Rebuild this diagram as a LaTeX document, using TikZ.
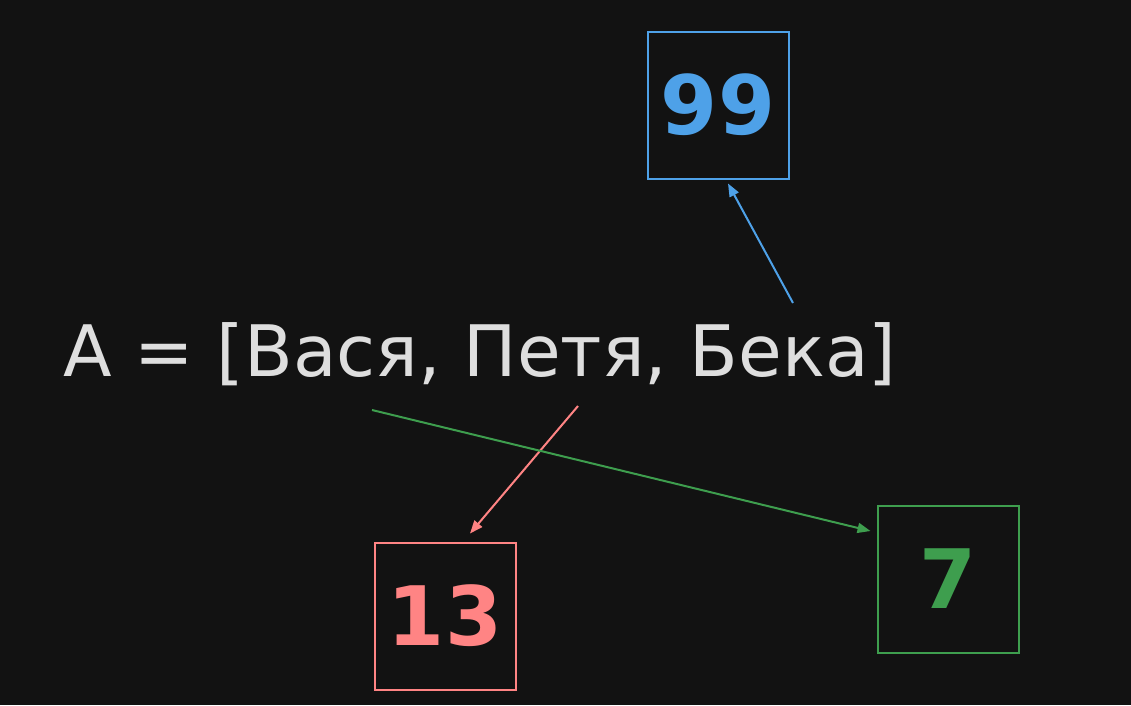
\documentclass[tikz,border=0pt]{standalone}
\usepackage{fontspec}
\setmainfont{DejaVu Sans}
\usetikzlibrary{arrows.meta}
\definecolor{bgdark}{HTML}{121212}
\definecolor{inkgrey}{HTML}{DEDEDE}
\definecolor{valblue}{HTML}{4EA1E8}
\definecolor{valred}{HTML}{FF8484}
\definecolor{valgreen}{HTML}{3E9E4E}
\begin{document}
\begin{tikzpicture}[
    x=1pt, y=-1pt,
    valbox/.style={
        rectangle,
        draw,
        line width=2pt,
        minimum width=141pt,
        minimum height=147pt,
        inner sep=0pt,
        font=\fontsize{82}{82}\selectfont\bfseries
    },
    arrow/.style={
        -{Triangle[length=13pt,width=10pt]},
        line width=2pt
    }
]
\fill[bgdark] (0,0) rectangle (1131,705);
\useasboundingbox (0,0) rectangle (1131,705);

% Array expression
\node[text=inkgrey, font=\fontsize{71}{71}\selectfont] (arr) at (480,354) {A = [Вася, Петя, Бека]};

% Value boxes
\node[valbox, draw=valblue, text=valblue] (b99) at (718,105) {99};
\node[valbox, draw=valred, text=valred] (b13) at (445,616) {13};
\node[valbox, draw=valgreen, text=valgreen] (b7) at (948,579) {7};

% Arrow start points under the names
\coordinate (sbeka) at (793,303);
\coordinate (speta) at (578,406);
\coordinate (svasya) at (372,410);

% Arrows from names to values
\draw[arrow, valblue] (sbeka) -- ([xshift=10pt, yshift=-4pt]b99.south);
\draw[arrow, valred] (speta) -- ([xshift=25pt, yshift=8pt]b13.north);
\draw[arrow, valgreen] (svasya) -- ([xshift=-6pt, yshift=48pt]b7.west);

\end{tikzpicture}
\end{document}
